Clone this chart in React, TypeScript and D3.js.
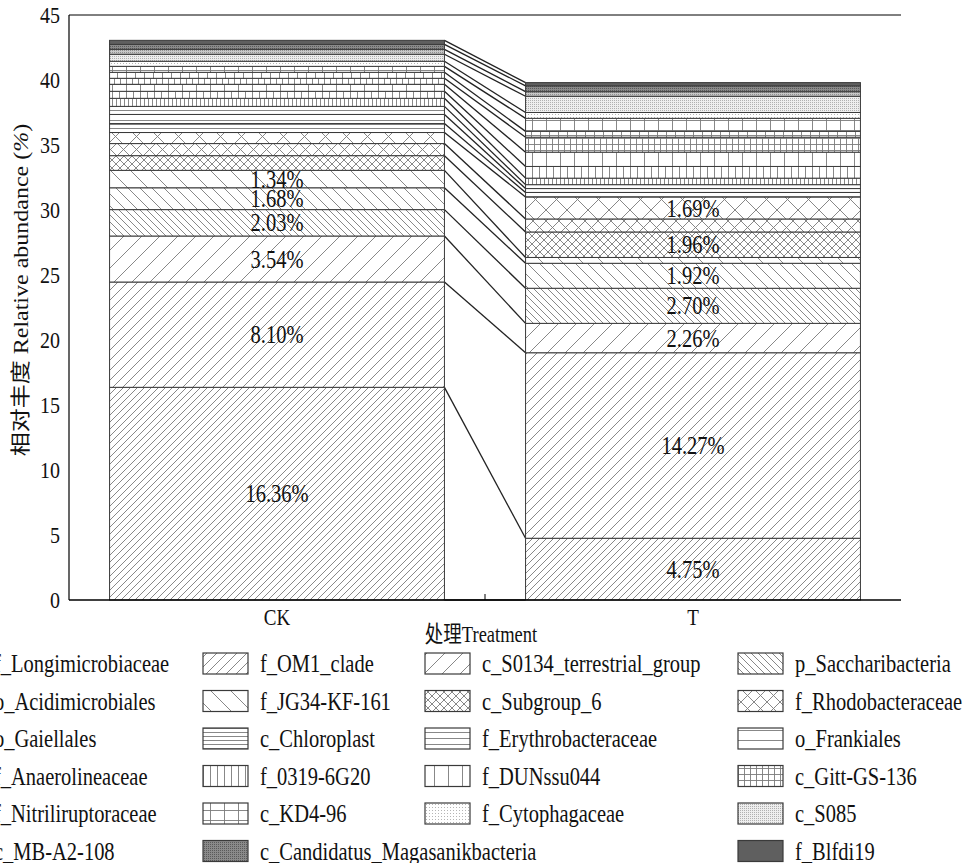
import React from 'react';
import * as d3 from 'd3';

const groups = ['CK', 'T'];
const taxa = [
  'f_Longimicrobiaceae', 'f_OM1_clade', 'c_S0134_terrestrial_group', 'p_Saccharibacteria',
  'o_Acidimicrobiales', 'f_JG34-KF-161', 'c_Subgroup_6', 'f_Rhodobacteraceae',
  'o_Gaiellales', 'c_Chloroplast', 'f_Erythrobacteraceae', 'o_Frankiales',
  'f_Anaerolineaceae', 'f_0319-6G20', 'f_DUNssu044', 'c_Gitt-GS-136',
  'f_Nitriliruptoraceae', 'c_KD4-96', 'f_Cytophagaceae', 'c_S085',
  'c_MB-A2-108', 'c_Candidatus_Magasanikbacteria', 'f_Blfdi19',
];
const ckValues = [16.36, 8.10, 3.54, 2.03, 1.68, 1.34, 1.13, 0.93, 0.85, 0.69, 0.70, 0.62,
  0.62, 0.54, 0.54, 0.46, 0.46, 0.46, 0.39, 0.54, 0.38, 0.38, 0.31];
const tValues = [4.75, 14.27, 2.26, 2.70, 1.92, 0.45, 1.96, 1.00, 1.69, 0.35, 0.30, 0.30,
  0.50, 0.90, 1.10, 1.15, 0.45, 1.00, 0.45, 1.25, 0.35, 0.45, 0.25];
const yTicks = [0, 5, 10, 15, 20, 25, 30, 35, 40, 45];
const yTitle = '相对丰度 Relative abundance (';
const xTitle = '处理Treatment';
const labelThreshold = 1.3;

const W = 977, H = 863;
const FONT = "'Liberation Serif','Times New Roman','Noto Sans CJK SC',serif";
const HATCH = '#7a7a7a';
const EDGE = '#3a3a3a';

type PDef = { type: string; s?: number; bg?: string; fg?: string };
const patternStyles: PDef[] = [
  { type: 'fwd', s: 7 }, { type: 'fwd', s: 10 }, { type: 'fwd', s: 18 },
  { type: 'back', s: 7 }, { type: 'back', s: 12 }, { type: 'back', s: 20 },
  { type: 'cross', s: 8 }, { type: 'cross', s: 13 }, { type: 'cross', s: 21 },
  { type: 'hor', s: 4 }, { type: 'hor', s: 6 }, { type: 'hor', s: 10 },
  { type: 'ver', s: 4 }, { type: 'ver', s: 7 }, { type: 'ver', s: 14 },
  { type: 'grid', s: 6 }, { type: 'grid', s: 9 }, { type: 'grid', s: 14 },
  { type: 'dots', s: 3, bg: '#ffffff', fg: '#b5b5b5' },
  { type: 'dots', s: 2, bg: '#eeeeee', fg: '#b0b0b0' },
  { type: 'dots', s: 2, bg: '#c8c8c8', fg: '#8f8f8f' },
  { type: 'dots', s: 2, bg: '#8a8a8a', fg: '#5a5a5a' },
  { type: 'solid', bg: '#5f5f5f' },
];

function Pattern({ id, p }: { id: string; p: PDef }) {
  const s = p.s || 4;
  const sw = 0.9;
  if (p.type === 'fwd' || p.type === 'back' || p.type === 'cross') {
    const fwd = `M0,${s} L${s},0 M${-1},1 L1,${-1} M${s - 1},${s + 1} L${s + 1},${s - 1}`;
    const back = `M0,0 L${s},${s} M${-1},${s - 1} L1,${s + 1} M${s - 1},${-1} L${s + 1},1`;
    const d = p.type === 'fwd' ? fwd : p.type === 'back' ? back : fwd + ' ' + back;
    return (
      <pattern id={id} patternUnits="userSpaceOnUse" width={s} height={s}>
        <rect width={s} height={s} fill="#fff" />
        <path d={d} stroke={HATCH} strokeWidth={sw} fill="none" />
      </pattern>
    );
  }
  if (p.type === 'hor') {
    return (
      <pattern id={id} patternUnits="userSpaceOnUse" width={10} height={s}>
        <rect width={10} height={s} fill="#fff" />
        <line x1={0} x2={10} y1={0.5} y2={0.5} stroke={HATCH} strokeWidth={sw} />
      </pattern>
    );
  }
  if (p.type === 'ver') {
    return (
      <pattern id={id} patternUnits="userSpaceOnUse" width={s} height={10}>
        <rect width={s} height={10} fill="#fff" />
        <line x1={0.5} x2={0.5} y1={0} y2={10} stroke={HATCH} strokeWidth={sw} />
      </pattern>
    );
  }
  if (p.type === 'grid') {
    const h = s === 14 ? 10 : s;
    return (
      <pattern id={id} patternUnits="userSpaceOnUse" width={s} height={h}>
        <rect width={s} height={h} fill="#fff" />
        <line x1={0.5} x2={0.5} y1={0} y2={h} stroke={HATCH} strokeWidth={sw} />
        <line x1={0} x2={s} y1={0.5} y2={0.5} stroke={HATCH} strokeWidth={sw} />
      </pattern>
    );
  }
  if (p.type === 'dots') {
    return (
      <pattern id={id} patternUnits="userSpaceOnUse" width={s} height={s}>
        <rect width={s} height={s} fill={p.bg} />
        <rect width={1} height={1} fill={p.fg} />
      </pattern>
    );
  }
  return (
    <pattern id={id} patternUnits="userSpaceOnUse" width={4} height={4}>
      <rect width={4} height={4} fill={p.bg} />
    </pattern>
  );
}

function STxt({ x, y, children, anchor = 'middle', size = 19, rot = false, stretch = 1.2 }: any) {
  const transform = rot
    ? `translate(${x},${y}) rotate(-90) scale(${stretch},1)`
    : `translate(${x},${y}) scale(1,${stretch})`;
  return (
    <g transform={transform}>
      <text textAnchor={anchor} dy="0.35em" fontSize={size} fontFamily={FONT} fill="#111">
        {children}
      </text>
    </g>
  );
}

export default function App() {
  const y = d3.scaleLinear().domain([0, 45]).range([600, 15]);
  const x = d3.scaleBand<string>().domain(groups).range([69, 901])
    .paddingInner(0.195).paddingOuter(0.0975);
  const bw = x.bandwidth();

  const rows = groups.map((g, gi) => {
    const vals = gi === 0 ? ckValues : tValues;
    const o: any = { group: g };
    taxa.forEach((t, i) => (o[t] = vals[i]));
    return o;
  });
  const series = d3.stack<any>().keys(taxa)(rows);

  const xCK = x('CK')!;
  const xT = x('T')!;
  const links: { y0: number; y1: number }[] = [{ y0: y(0), y1: y(0) }];
  series.forEach((s) => links.push({ y0: y(s[0][1]), y1: y(s[1][1]) }));

  // legend layout: 4 columns, the slot after the long name is skipped
  const colX = [-63, 203, 425, 738];
  const slots: { r: number; c: number }[] = [];
  let slot = 0;
  taxa.forEach((t, i) => {
    if (i === taxa.length - 1) slot++;
    slots.push({ r: Math.floor(slot / 4), c: slot % 4 });
    slot++;
  });

  return (
    <svg width={W} height={H} style={{ position: 'absolute', left: 0, top: 0, background: '#fff' }}>
      <defs>
        {patternStyles.map((p, i) => (
          <Pattern key={i} id={`pat${i}`} p={p} />
        ))}
      </defs>
      <rect width={W} height={H} fill="#fff" />

      {/* connecting lines */}
      {links.map((l, i) => (
        <line key={i} x1={xCK + bw} x2={xT} y1={l.y0} y2={l.y1} stroke="#222" strokeWidth={1.3} />
      ))}

      {/* stacked bars */}
      {series.map((s, si) => (
        <g key={si}>
          {s.map((d, gi) => (
            <rect key={gi} x={x(groups[gi])} width={bw} y={y(d[1])} height={y(d[0]) - y(d[1])}
              fill={`url(#pat${si})`} stroke={EDGE} strokeWidth={1} />
          ))}
        </g>
      ))}

      {/* value labels */}
      {series.map((s, si) =>
        s.map((d, gi) => {
          const v = d[1] - d[0];
          if (v < labelThreshold) return null;
          return (
            <STxt key={`${si}-${gi}`} x={x(groups[gi])! + bw / 2} y={(y(d[0]) + y(d[1])) / 2} size={20.5}>
              {`${v.toFixed(2)}%`}
            </STxt>
          );
        })
      )}

      {/* axes */}
      <line x1={69} x2={69} y1={15} y2={600} stroke="#000" strokeWidth={1.2} />
      <line x1={69} x2={901} y1={15} y2={15} stroke="#000" strokeWidth={1} />
      <line x1={69} x2={901} y1={600} y2={600} stroke="#000" strokeWidth={1.6} />
      <line x1={69 + x.step()} x2={69 + x.step()} y1={600} y2={594} stroke="#000" strokeWidth={1} />
      {yTicks.map((t) => (
        <STxt key={t} x={60} y={y(t)} anchor="end" size={20}>{t}</STxt>
      ))}
      {groups.map((g) => (
        <STxt key={g} x={x(g)! + bw / 2} y={617} size={19}>{g}</STxt>
      ))}
      <STxt x={481} y={634} size={18.5}>{xTitle}</STxt>
      <STxt x={21} y={290} size={20} rot stretch={1.2}>
        {yTitle}<tspan fontStyle="italic">%</tspan>)
      </STxt>

      {/* legend */}
      {taxa.map((t, i) => {
        const { r, c } = slots[i];
        const cy = 663.5 + r * 37.5;
        const bx = colX[c];
        return (
          <g key={t}>
            <rect x={bx} y={cy - 10.5} width={45} height={21} fill={`url(#pat${i})`} stroke={EDGE} strokeWidth={1.2} />
            <STxt x={bx + 57} y={cy} anchor="start" size={20.5}>{t}</STxt>
          </g>
        );
      })}
    </svg>
  );
}
